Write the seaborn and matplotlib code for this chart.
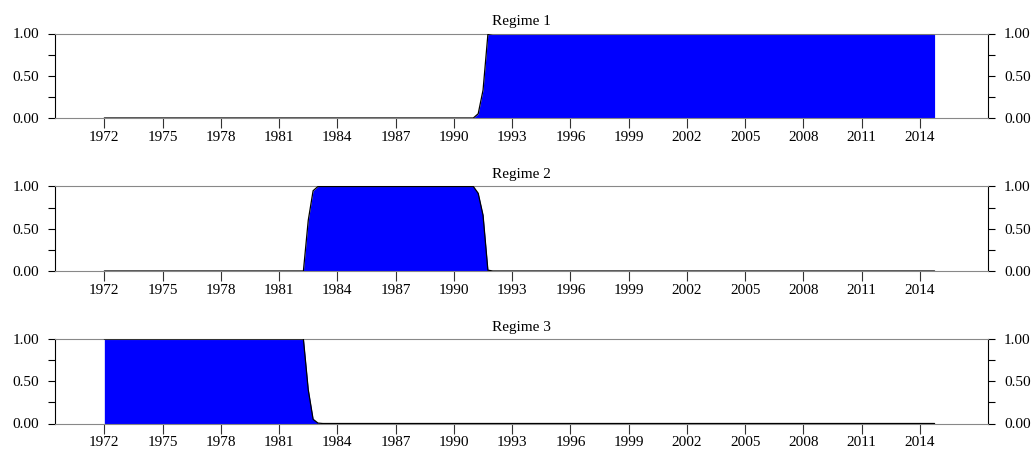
import matplotlib
matplotlib.use("Agg")
import matplotlib.pyplot as plt
import numpy as np
import pandas as pd
import seaborn as sns
from matplotlib.ticker import FixedLocator, FormatStrFormatter

# Smoothed regime probabilities, quarterly 1972Q1 - 2014Q4
quarters = pd.period_range("1972Q1", "2014Q4", freq="Q")
regime1 = [0.0] * 77 + [0.05, 0.33, 0.99] + [1.0] * 92
regime2 = [0.0] * 42 + [0.60, 0.95] + [1.0] * 33 + [0.92, 0.66, 0.01] + [0.0] * 92
regime3 = [1.0] * 42 + [0.40, 0.05, 0.005] + [0.0] * 127

titles = ["Regime 1", "Regime 2", "Regime 3"]
year_ticks = list(range(1972, 2015, 3))
prob_ticks = [0.0, 0.5, 1.0]
prob_minor = [0.25, 0.75]

sns.set_theme(style="white")
plt.rcParams["font.family"] = ["Liberation Serif", "DejaVu Serif"]
plt.rcParams["font.size"] = 11
plt.rcParams["text.color"] = "black"
plt.rcParams["axes.titlecolor"] = "black"
plt.rcParams["xtick.color"] = "black"
plt.rcParams["ytick.color"] = "black"
plt.rcParams["xtick.labelcolor"] = "black"
plt.rcParams["ytick.labelcolor"] = "black"

t = quarters.year + (quarters.quarter - 1) / 4.0
df = pd.DataFrame({"t": t, titles[0]: regime1, titles[1]: regime2, titles[2]: regime3})

W, H = 1034, 451
fig = plt.figure(figsize=(W / 100, H / 100), dpi=100)

left_px, right_px = 55, 988
tops_px = [33.5, 186.5, 339.0]
height_px = 84.5

for top, name in zip(tops_px, titles):
    ax = fig.add_axes([left_px / W, 1 - (top + height_px) / H,
                       (right_px - left_px) / W, height_px / H])
    ax.fill_between(df["t"], 0, df[name], color="#0000FF", linewidth=0, zorder=2)
    sns.lineplot(data=df, x="t", y=name, color="black", linewidth=0.9, ax=ax, zorder=3)

    ax.set_xlim(1969.46, 2017.5)
    ax.set_ylim(0, 1)
    ax.set_xlabel("")
    ax.set_ylabel("")
    ax.set_title(name, fontsize=11, pad=6, color="black")

    ax.xaxis.set_major_locator(FixedLocator(year_ticks))
    ax.yaxis.set_major_locator(FixedLocator(prob_ticks))
    ax.yaxis.set_minor_locator(FixedLocator(prob_minor))
    ax.yaxis.set_major_formatter(FormatStrFormatter("%.2f"))

    ax.tick_params(axis="x", which="major", direction="out", length=7, width=0.8,
                   color="#333333", labelcolor="black", pad=2, labelsize=11, bottom=True)
    ax.tick_params(axis="y", which="both", direction="out", length=5, width=0.8,
                   color="black", labelcolor="black", pad=6.5, labelsize=11,
                   left=True, right=True, labelleft=True, labelright=True)

    for side in ("left", "right"):
        ax.spines[side].set_color("black")
        ax.spines[side].set_linewidth(0.8)
    for side in ("top", "bottom"):
        ax.spines[side].set_color("#888888")
        ax.spines[side].set_linewidth(0.8)

fig.savefig("out.png", dpi=100)
